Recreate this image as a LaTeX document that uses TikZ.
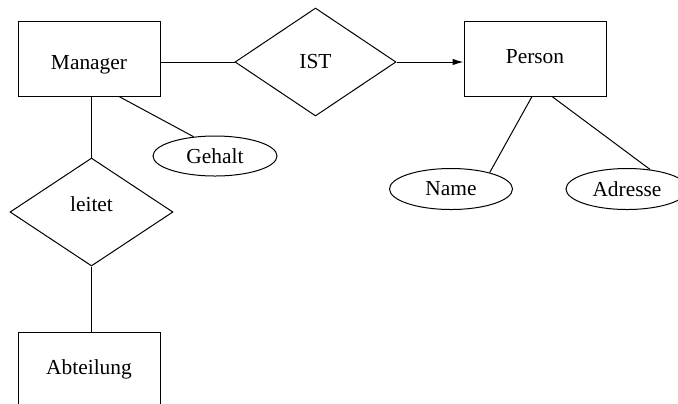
\documentclass[tikz,border=0pt]{standalone}
\usepackage{fontspec}
\setmainfont{Liberation Serif}
\usetikzlibrary{shapes.geometric,arrows.meta}
% place a label with its baseline a given distance below the node centre
\newcommand{\basedrop}[2]{\raisebox{-#1}[0pt][0pt]{#2}}
\begin{document}
\begin{tikzpicture}[x=0.5pt,y=-0.5pt,
  every node/.style={font=\fontsize{10.7}{13}\selectfont, inner sep=0pt},
  entity/.style={draw, rectangle, minimum width=71pt, minimum height=37.5pt},
  relation/.style={draw, diamond, minimum width=80.5pt, minimum height=54pt},
  attrib/.style={draw, ellipse, minimum width=61.5pt, minimum height=20.5pt},
  link/.style={line width=0.5pt}]
\useasboundingbox (0,0) rectangle (678,403);
\clip (0,0) rectangle (678,403);
\begin{scope}[line width=0.5pt]
% entities
\node[entity] (manager) at (89,58.5) {\basedrop{5.25pt}{Manager}};
\node[entity] (person) at (535,58.5) {\basedrop{2.25pt}{Person}};
\node[entity] (abt) at (89,369.5) {Abteilung};
% relationships
\node[relation] (ist) at (315.5,62) {IST};
\node[relation, minimum width=81.5pt] (leitet) at (91.5,212) {\basedrop{-0.5pt}{leitet}};
% attributes
\node[attrib, minimum width=62pt, minimum height=20pt] (gehalt) at (215,156) {Gehalt};
\node[attrib] (name) at (451,189) {Name};
\node[attrib, minimum width=61pt] (adresse) at (627,189) {Adresse};
% connectors
\draw[link] (manager.east |- ist.west) -- (ist.west);
\draw[link, -{Latex[length=5.5pt,width=3.2pt]}] (ist.east) -- (person.west |- ist.east);
\draw[link] (leitet.north |- manager.south) -- (leitet.north);
\draw[link] ([xshift=15pt]manager.south) -- (gehalt.138);
\draw[link] (leitet.south) -- (leitet.south |- abt.north);
\draw[link] ([xshift=-1.5pt]person.south) -- (name.23);
\draw[link] ([xshift=8.5pt]person.south) -- (adresse.40);
\end{scope}
\end{tikzpicture}
\end{document}
